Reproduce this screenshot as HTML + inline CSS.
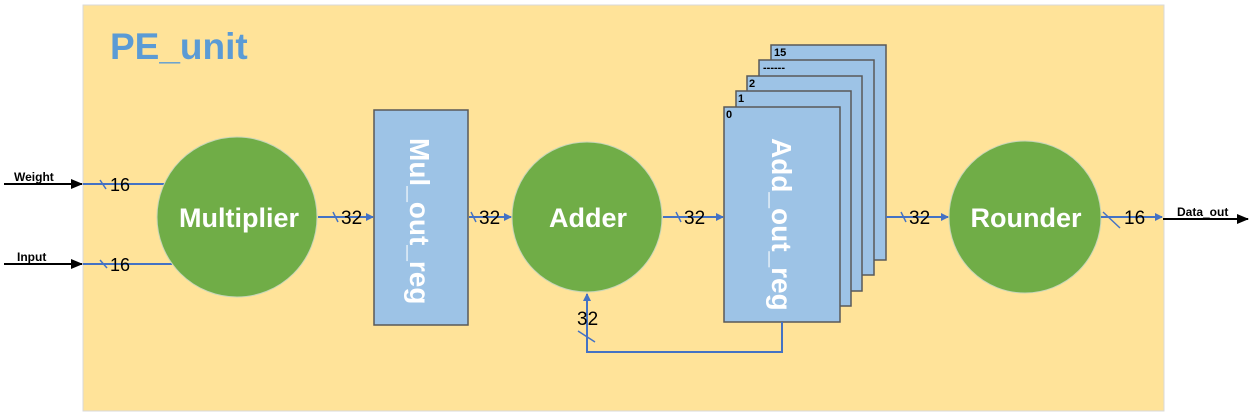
<!DOCTYPE html>
<html><head><style>body{margin:0;background:#fff}svg{display:block}</style></head><body>
<svg width="1252" height="413" xmlns="http://www.w3.org/2000/svg" font-family="Liberation Sans, sans-serif">
<defs>
<marker id="b" markerWidth="8" markerHeight="8" refX="7" refY="4" orient="auto" markerUnits="userSpaceOnUse"><path d="M0,0 L8,4 L0,8 z" fill="#4472c4"/></marker>
<marker id="k" markerWidth="12" markerHeight="10" refX="11" refY="5" orient="auto" markerUnits="userSpaceOnUse"><path d="M0,0 L12,5 L0,10 z" fill="#000"/></marker>
</defs>
<rect x="83" y="5" width="1081" height="406" fill="#ffe399" stroke="#d9d9d9"/>
<text x="110" y="59" font-size="37" font-weight="bold" fill="#5b9bd5">PE_unit</text>
<line x1="4" y1="184" x2="82" y2="184" stroke="#000" stroke-width="2" marker-end="url(#k)"/>
<line x1="4" y1="264" x2="82" y2="264" stroke="#000" stroke-width="2" marker-end="url(#k)"/>
<text x="14" y="181" font-size="12" font-weight="bold">Weight</text>
<text x="17" y="261" font-size="12" font-weight="bold">Input</text>
<line x1="83" y1="184" x2="165" y2="184" stroke="#4472c4" stroke-width="2"/>
<line x1="83" y1="264" x2="172" y2="264" stroke="#4472c4" stroke-width="2"/>
<line x1="100" y1="180" x2="106" y2="189" stroke="#4472c4" stroke-width="1.5"/>
<line x1="100" y1="260" x2="107" y2="268" stroke="#4472c4" stroke-width="1.5"/>
<text x="110" y="191" font-size="18">16</text>
<text x="110" y="271" font-size="18">16</text>
<g fill="#9dc3e6" stroke="#595959" stroke-width="1.5">
<rect x="771" y="45" width="115" height="215"/>
<rect x="759" y="60" width="115" height="215"/>
<rect x="747" y="76" width="115" height="215"/>
<rect x="736" y="91" width="115" height="215"/>
<rect x="724" y="107" width="116" height="215"/>
</g>
<g font-size="11" font-weight="bold">
<text x="774" y="56">15</text><text x="763" y="71">------</text><text x="749" y="87">2</text><text x="738" y="102">1</text><text x="726" y="118">0</text>
</g>
<text transform="translate(772,138) rotate(90)" font-size="28" font-weight="bold" fill="#fff">Add_out_reg</text>
<rect x="374" y="110" width="94" height="215" fill="#9dc3e6" stroke="#595959" stroke-width="1.5"/>
<text transform="translate(410,138) rotate(90)" font-size="28" font-weight="bold" fill="#fff">Mul_out_reg</text>
<g fill="#70ad47" stroke="#c8d6b8" stroke-width="1">
<circle cx="237" cy="217" r="80"/><circle cx="587" cy="217" r="75"/><circle cx="1025" cy="217" r="76"/>
</g>
<g font-size="27" font-weight="bold" fill="#fff" text-anchor="middle">
<text x="239" y="227">Multiplier</text><text x="588" y="227">Adder</text><text x="1026" y="227">Rounder</text>
</g>
<g stroke="#4472c4" stroke-width="2" fill="none">
<line x1="318" y1="217" x2="373" y2="217" marker-end="url(#b)"/>
<line x1="469" y1="217" x2="511" y2="217" marker-end="url(#b)"/>
<line x1="663" y1="217" x2="723" y2="217" marker-end="url(#b)"/>
<line x1="886" y1="217" x2="948" y2="217" marker-end="url(#b)"/>
<line x1="1101" y1="217" x2="1162" y2="217" marker-end="url(#b)"/>
<polyline points="782,322 782,352 587,352 587,294" marker-end="url(#b)"/>
</g>
<g stroke="#4472c4" stroke-width="1.5">
<line x1="333" y1="212" x2="338" y2="222"/><line x1="471" y1="212" x2="476" y2="222"/>
<line x1="676" y1="212" x2="681" y2="222"/><line x1="901" y1="212" x2="906" y2="222"/>
<line x1="1103" y1="212" x2="1120" y2="228"/><line x1="578" y1="331" x2="595" y2="342"/>
</g>
<g font-size="19">
<text x="341" y="224">32</text><text x="479" y="224">32</text><text x="684" y="224">32</text>
<text x="909" y="224">32</text><text x="1124" y="224">16</text><text x="577" y="325">32</text>
</g>
<line x1="1163" y1="219" x2="1248" y2="219" stroke="#000" stroke-width="2" marker-end="url(#k)"/>
<text x="1177" y="216" font-size="12" font-weight="bold">Data_out</text>
</svg>
</body></html>
